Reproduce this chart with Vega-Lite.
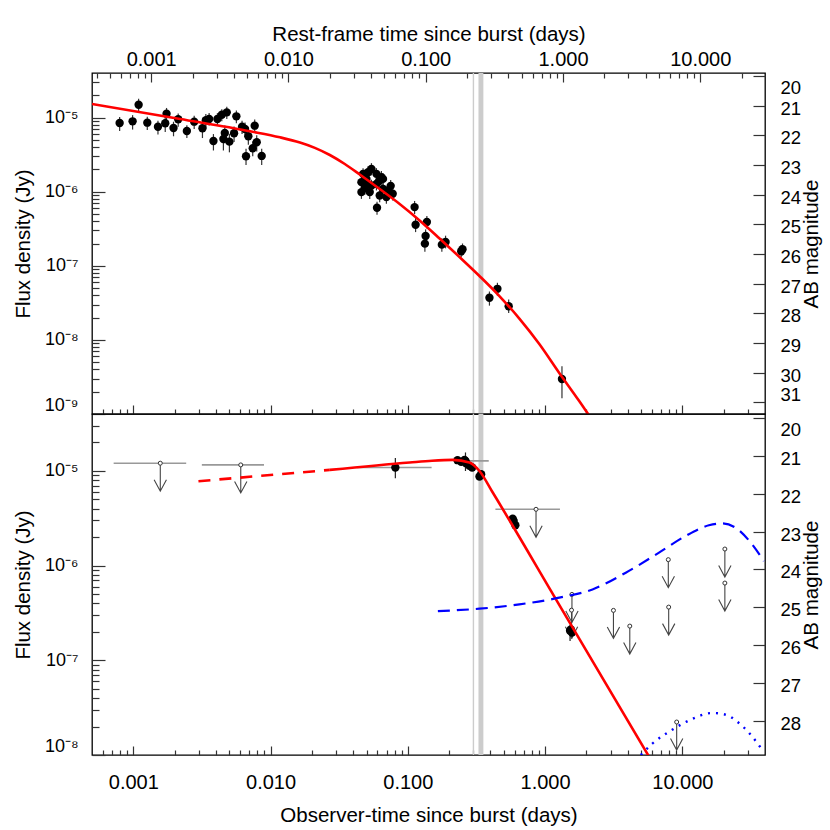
{
  "$schema": "https://vega.github.io/schema/vega-lite/v6.json",
  "background": "white",
  "padding": {"left": 12, "top": 23, "right": 0, "bottom": 0},
  "datasets": {
    "carrier": [{"t": 1, "F": 1e-6}],
    "bands": [{"t0": 0.297, "t1": 0.304}, {"t0": 0.327, "t1": 0.355}],
    "top_pts": [
      {"t": 0.000795, "F": 8.46e-6, "lo": 6.6e-6, "hi": 1.02e-5},
      {"t": 0.000988, "F": 8.91e-6, "lo": 6.9e-6, "hi": 1.08e-5},
      {"t": 0.001093, "F": 1.49e-5, "lo": 1.18e-5, "hi": 1.8e-5},
      {"t": 0.001264, "F": 8.54e-6, "lo": 6.8e-6, "hi": 1.03e-5},
      {"t": 0.001512, "F": 7.54e-6, "lo": 5.9e-6, "hi": 9.1e-6},
      {"t": 0.001708, "F": 8.38e-6, "lo": 6.4e-6, "hi": 1.0e-5},
      {"t": 0.001746, "F": 1.128e-5, "lo": 9.0e-6, "hi": 1.35e-5},
      {"t": 0.001963, "F": 7.24e-6, "lo": 5.6e-6, "hi": 8.8e-6},
      {"t": 0.002123, "F": 9.49e-6, "lo": 7.5e-6, "hi": 1.14e-5},
      {"t": 0.002455, "F": 6.6e-6, "lo": 5.3e-6, "hi": 7.9e-6},
      {"t": 0.002776, "F": 8.81e-6, "lo": 7.0e-6, "hi": 1.06e-5},
      {"t": 0.003189, "F": 7.18e-6, "lo": 5.3e-6, "hi": 8.8e-6},
      {"t": 0.003376, "F": 9.2e-6, "lo": 7.2e-6, "hi": 1.12e-5},
      {"t": 0.003567, "F": 9.57e-6, "lo": 7.8e-6, "hi": 1.15e-5},
      {"t": 0.003834, "F": 4.84e-6, "lo": 3.6e-6, "hi": 6.0e-6},
      {"t": 0.0041, "F": 9.57e-6, "lo": 7.8e-6, "hi": 1.15e-5},
      {"t": 0.004412, "F": 1.094e-5, "lo": 8.9e-6, "hi": 1.3e-5},
      {"t": 0.004797, "F": 1.178e-5, "lo": 9.6e-6, "hi": 1.4e-5},
      {"t": 0.004639, "F": 6.21e-6, "lo": 4.5e-6, "hi": 7.8e-6},
      {"t": 0.004532, "F": 5.15e-6, "lo": 3.6e-6, "hi": 6.5e-6},
      {"t": 0.005012, "F": 4.74e-6, "lo": 3.4e-6, "hi": 6.0e-6},
      {"t": 0.00542, "F": 6.15e-6, "lo": 4.7e-6, "hi": 7.6e-6},
      {"t": 0.005633, "F": 1.041e-5, "lo": 8.4e-6, "hi": 1.25e-5},
      {"t": 0.006197, "F": 7.54e-6, "lo": 6.0e-6, "hi": 9.1e-6},
      {"t": 0.006516, "F": 7.03e-6, "lo": 5.5e-6, "hi": 8.6e-6},
      {"t": 0.006887, "F": 5.6e-6, "lo": 4.3e-6, "hi": 6.9e-6},
      {"t": 0.006624, "F": 3.01e-6, "lo": 2.3e-6, "hi": 3.8e-6},
      {"t": 0.007662, "F": 7.78e-6, "lo": 6.2e-6, "hi": 9.4e-6},
      {"t": 0.007925, "F": 4.65e-6, "lo": 3.5e-6, "hi": 5.8e-6},
      {"t": 0.007413, "F": 3.86e-6, "lo": 3.0e-6, "hi": 4.8e-6},
      {"t": 0.008615, "F": 3.04e-6, "lo": 2.3e-6, "hi": 3.8e-6},
      {"t": 0.04718, "F": 1.741e-6, "lo": 1.42e-6, "hi": 2.08e-6},
      {"t": 0.05129, "F": 1.835e-6, "lo": 1.5e-6, "hi": 2.2e-6},
      {"t": 0.05904, "F": 1.741e-6, "lo": 1.42e-6, "hi": 2.08e-6},
      {"t": 0.06417, "F": 1.572e-6, "lo": 1.28e-6, "hi": 1.9e-6},
      {"t": 0.0459, "F": 1.346e-6, "lo": 1.1e-6, "hi": 1.6e-6},
      {"t": 0.04994, "F": 1.277e-6, "lo": 1.04e-6, "hi": 1.53e-6},
      {"t": 0.0543, "F": 1.212e-6, "lo": 9.9e-7, "hi": 1.45e-6},
      {"t": 0.05904, "F": 1.277e-6, "lo": 1.04e-6, "hi": 1.53e-6},
      {"t": 0.06592, "F": 1.094e-6, "lo": 8.9e-7, "hi": 1.31e-6},
      {"t": 0.07168, "F": 1.038e-6, "lo": 8.5e-7, "hi": 1.24e-6},
      {"t": 0.0459, "F": 9.88e-7, "lo": 8.0e-7, "hi": 1.18e-6},
      {"t": 0.05278, "F": 9.88e-7, "lo": 8.0e-7, "hi": 1.18e-6},
      {"t": 0.06237, "F": 8.89e-7, "lo": 7.2e-7, "hi": 1.07e-6},
      {"t": 0.06978, "F": 8.46e-7, "lo": 6.9e-7, "hi": 1.01e-6},
      {"t": 0.05963, "F": 6.07e-7, "lo": 4.9e-7, "hi": 7.3e-7},
      {"t": 0.0543, "F": 2.03e-6, "lo": 1.66e-6, "hi": 2.43e-6},
      {"t": 0.075, "F": 1.2e-6, "lo": 9.8e-7, "hi": 1.44e-6},
      {"t": 0.07757, "F": 9.37e-7, "lo": 7.6e-7, "hi": 1.12e-6},
      {"t": 0.06592, "F": 1.49e-6, "lo": 1.22e-6, "hi": 1.78e-6},
      {"t": 0.04994, "F": 1.49e-6, "lo": 1.22e-6, "hi": 1.78e-6},
      {"t": 0.0486, "F": 1.12e-6, "lo": 9.1e-7, "hi": 1.34e-6},
      {"t": 0.0615, "F": 1.38e-6, "lo": 1.13e-6, "hi": 1.65e-6},
      {"t": 0.112, "F": 6.2e-7, "lo": 5.0e-7, "hi": 7.5e-7},
      {"t": 0.1139, "F": 3.58e-7, "lo": 2.85e-7, "hi": 4.4e-7},
      {"t": 0.1376, "F": 3.9e-7, "lo": 3.2e-7, "hi": 4.7e-7},
      {"t": 0.1347, "F": 2.53e-7, "lo": 2.0e-7, "hi": 3.1e-7},
      {"t": 0.1331, "F": 1.99e-7, "lo": 1.55e-7, "hi": 2.45e-7},
      {"t": 0.1769, "F": 1.93e-7, "lo": 1.55e-7, "hi": 2.35e-7},
      {"t": 0.1883, "F": 2.1e-7, "lo": 1.72e-7, "hi": 2.55e-7},
      {"t": 0.2448, "F": 1.57e-7, "lo": 1.3e-7, "hi": 1.9e-7},
      {"t": 0.2502, "F": 1.67e-7, "lo": 1.38e-7, "hi": 2.0e-7},
      {"t": 0.3931, "F": 3.7e-8, "lo": 2.9e-8, "hi": 4.5e-8},
      {"t": 0.4494, "F": 4.89e-8, "lo": 3.95e-8, "hi": 5.9e-8},
      {"t": 0.5428, "F": 2.85e-8, "lo": 2.3e-8, "hi": 3.5e-8},
      {"t": 1.327, "F": 2.97e-9, "lo": 1.63e-9, "hi": 4.4e-9}
    ],
    "top_curve": [
      {"t": 0.0005, "F": 1.526e-5},
      {"t": 0.002195, "F": 9.57e-6},
      {"t": 0.007087, "F": 6.53e-6},
      {"t": 0.0117, "F": 5.42e-6},
      {"t": 0.01636, "F": 4.61e-6},
      {"t": 0.02102, "F": 3.91e-6},
      {"t": 0.02702, "F": 3.13e-6},
      {"t": 0.03473, "F": 2.365e-6},
      {"t": 0.04464, "F": 1.706e-6},
      {"t": 0.06237, "F": 1.087e-6},
      {"t": 0.08718, "F": 6.82e-7},
      {"t": 0.1218, "F": 4.09e-7},
      {"t": 0.1703, "F": 2.335e-7},
      {"t": 0.2379, "F": 1.315e-7},
      {"t": 0.3325, "F": 7.29e-8},
      {"t": 0.4646, "F": 3.91e-8},
      {"t": 0.6494, "F": 1.94e-8},
      {"t": 0.9074, "F": 8.8e-9},
      {"t": 1.268, "F": 3.58e-9},
      {"t": 1.772, "F": 1.497e-9},
      {"t": 2.278, "F": 7.56e-10}
    ],
    "bot_det": [
      {"t": 0.0811, "F": 1.089e-5, "lo": 8.4e-6, "hi": 1.37e-5},
      {"t": 0.263, "F": 1.279e-5, "lo": 1.0e-5, "hi": 1.57e-5},
      {"t": 0.2448, "F": 1.248e-5, "lo": 1.17e-5, "hi": 1.33e-5},
      {"t": 0.2662, "F": 1.209e-5, "lo": 1.13e-5, "hi": 1.29e-5},
      {"t": 0.2812, "F": 1.132e-5, "lo": 1.06e-5, "hi": 1.21e-5},
      {"t": 0.2942, "F": 1.089e-5, "lo": 1.02e-5, "hi": 1.16e-5},
      {"t": 0.2587, "F": 1.31e-5, "lo": 1.23e-5, "hi": 1.4e-5},
      {"t": 0.2301, "F": 1.301e-5, "lo": 1.22e-5, "hi": 1.39e-5},
      {"t": 0.342, "F": 9.25e-6, "lo": 8.7e-6, "hi": 9.8e-6},
      {"t": 0.3325, "F": 8.74e-6, "lo": 8.2e-6, "hi": 9.3e-6},
      {"t": 0.5805, "F": 3.14e-6, "lo": 2.95e-6, "hi": 3.35e-6},
      {"t": 0.5902, "F": 2.96e-6, "lo": 2.78e-6, "hi": 3.15e-6},
      {"t": 0.6072, "F": 2.67e-6, "lo": 2.5e-6, "hi": 2.85e-6},
      {"t": 1.54, "F": 2.12e-7, "lo": 1.85e-7, "hi": 2.4e-7},
      {"t": 1.57, "F": 1.97e-7, "lo": 1.7e-7, "hi": 2.25e-7},
      {"t": 1.52, "F": 2.05e-7, "lo": 1.6e-7, "hi": 2.35e-7}
    ],
    "bot_det_bars": [
      {"t0": 0.0425, "t1": 0.149, "F": 1.089e-5},
      {"t0": 0.2225, "t1": 0.3885, "F": 1.279e-5}
    ],
    "bot_lim": [
      {"t": 0.001572, "F": 1.209e-5},
      {"t": 0.006064, "F": 1.16e-5},
      {"t": 0.8588, "F": 3.94e-6},
      {"t": 1.569, "F": 4.97e-7},
      {"t": 1.558, "F": 3.39e-7},
      {"t": 3.147, "F": 3.37e-7},
      {"t": 4.14, "F": 2.3e-7},
      {"t": 7.9, "F": 1.157e-6},
      {"t": 7.95, "F": 3.65e-7},
      {"t": 20.4, "F": 1.499e-6},
      {"t": 20.4, "F": 6.55e-7},
      {"t": 9.09, "F": 2.23e-8}
    ],
    "bot_lim_bars": [
      {"t0": 0.000719, "t1": 0.002428, "F": 1.209e-5},
      {"t0": 0.003157, "t1": 0.008954, "F": 1.16e-5},
      {"t0": 0.4345, "t1": 1.283, "F": 3.94e-6}
    ],
    "red_dash": [
      {"t": 0.002982, "F": 7.8e-6},
      {"t": 0.02702, "F": 1.027e-5}
    ],
    "red_solid": [
      {"t": 0.02702, "F": 1.027e-5},
      {"t": 0.1031, "F": 1.23e-5},
      {"t": 0.15, "F": 1.285e-5},
      {"t": 0.2127, "F": 1.31e-5},
      {"t": 0.2812, "F": 1.23e-5},
      {"t": 0.3325, "F": 1.0e-5},
      {"t": 0.4155, "F": 5.92e-6},
      {"t": 1.2, "F": 4.41e-7},
      {"t": 6.0, "F": 8.54e-9}
    ],
    "blue_dash": [
      {"t": 0.1655, "F": 3.31e-7},
      {"t": 0.3325, "F": 3.51e-7},
      {"t": 0.6494, "F": 3.9e-7},
      {"t": 1.268, "F": 4.59e-7},
      {"t": 2.214, "F": 5.61e-7},
      {"t": 3.871, "F": 8.43e-7},
      {"t": 6.76, "F": 1.373e-6},
      {"t": 10.57, "F": 2.06e-6},
      {"t": 15.61, "F": 2.67e-6},
      {"t": 19.5, "F": 2.8e-6},
      {"t": 24.4, "F": 2.52e-6},
      {"t": 32.2, "F": 1.68e-6},
      {"t": 39.2, "F": 1.118e-6}
    ],
    "blue_dot": [
      {"t": 4.977, "F": 1.0e-8},
      {"t": 6.04, "F": 1.317e-8},
      {"t": 8.45, "F": 1.852e-8},
      {"t": 11.8, "F": 2.4e-8},
      {"t": 16.5, "F": 2.78e-8},
      {"t": 20.6, "F": 2.67e-8},
      {"t": 25.8, "F": 2.18e-8},
      {"t": 32.2, "F": 1.573e-8},
      {"t": 38.1, "F": 1.138e-8}
    ]
  },
  "vconcat": [
    {
      "width": 673,
      "height": 341,
      "layer": [
        {
          "layer": [
            {
              "data": {"name": "bands"},
              "mark": {"type": "rect", "color": "#cccccc"},
              "encoding": {
                "x": {"field": "t0", "type": "quantitative", "scale": {"type": "log", "domain": [0.0005, 40], "nice": false}, "axis": null},
                "x2": {"field": "t1"},
                "y": {"datum": 4e-5, "type": "quantitative", "scale": {"type": "log", "domain": [1e-9, 4e-5], "nice": false}, "axis": null},
                "y2": {"datum": 1e-9}
              }
            },
            {
              "data": {"name": "top_pts"},
              "mark": {"type": "rule", "color": "#333333", "strokeWidth": 1.2, "clip": true},
              "encoding": {
                "x": {"field": "t", "type": "quantitative", "scale": {"type": "log", "domain": [0.0005, 40], "nice": false}, "axis": null},
                "y": {"field": "lo", "type": "quantitative", "scale": {"type": "log", "domain": [1e-9, 4e-5], "nice": false}, "axis": null},
                "y2": {"field": "hi"}
              }
            },
            {
              "data": {"name": "top_pts"},
              "mark": {"type": "point", "shape": "circle", "filled": true, "color": "#000000", "opacity": 1, "size": 70},
              "encoding": {
                "x": {"field": "t", "type": "quantitative", "scale": {"type": "log", "domain": [0.0005, 40], "nice": false}, "axis": null},
                "y": {"field": "F", "type": "quantitative", "scale": {"type": "log", "domain": [1e-9, 4e-5], "nice": false}, "axis": null}
              }
            },
            {
              "data": {"name": "top_curve"},
              "mark": {"type": "line", "color": "#ff0000", "strokeWidth": 2.6, "clip": true, "interpolate": "monotone"},
              "encoding": {
                "x": {"field": "t", "type": "quantitative", "scale": {"type": "log", "domain": [0.0005, 40], "nice": false}, "axis": null},
                "y": {"field": "F", "type": "quantitative", "scale": {"type": "log", "domain": [1e-9, 4e-5], "nice": false}, "axis": null}
              }
            }
          ]
        },
        {
          "data": {"name": "carrier"},
          "mark": {"type": "point", "opacity": 0},
          "encoding": {
            "x": {"field": "t", "type": "quantitative", "scale": {"type": "log", "domain": [0.0005, 40], "nice": false},
              "axis": {"orient": "bottom", "values": [0.001, 0.01, 0.1, 1, 10], "tickSize": -9, "labels": false, "title": null}},
            "y": {"field": "F", "type": "quantitative", "scale": {"type": "log", "domain": [1e-9, 4e-5], "nice": false},
              "axis": {"orient": "left", "values": [1e-9, 1e-8, 1e-7, 1e-6, 1e-5], "tickSize": -13, "labelPadding": 27, "labelFlush": 12, "labelFontSize": 18,
                "labelExpr": "'10' + ['⁰','⁻¹','⁻²','⁻³','⁻⁴','⁻⁵','⁻⁶','⁻⁷','⁻⁸','⁻⁹','⁻¹⁰'][round(-log(datum.value)/LN10)]",
                "title": "Flux density (Jy)", "titlePadding": 11}}
          }
        },
        {
          "data": {"name": "carrier"},
          "mark": {"type": "point", "opacity": 0},
          "encoding": {
            "x": {"field": "t", "type": "quantitative", "scale": {"type": "log", "domain": [0.0005, 40], "nice": false},
              "axis": {"orient": "bottom", "values": [0.0006, 0.0007, 0.0008, 0.0009, 0.002, 0.003, 0.004, 0.005, 0.006, 0.007, 0.008, 0.009, 0.02, 0.03, 0.04, 0.05, 0.06, 0.07, 0.08, 0.09, 0.2, 0.3, 0.4, 0.5, 0.6, 0.7, 0.8, 0.9, 2, 3, 4, 5, 6, 7, 8, 9, 20, 30], "tickSize": -5, "labels": false, "title": null}},
            "y": {"field": "F", "type": "quantitative", "scale": {"type": "log", "domain": [1e-9, 4e-5], "nice": false},
              "axis": {"orient": "left", "values": [2e-9, 3e-9, 4e-9, 5e-9, 6e-9, 7e-9, 8e-9, 9e-9, 2e-8, 3e-8, 4e-8, 5e-8, 6e-8, 7e-8, 8e-8, 9e-8, 2e-7, 3e-7, 4e-7, 5e-7, 6e-7, 7e-7, 8e-7, 9e-7, 2e-6, 3e-6, 4e-6, 5e-6, 6e-6, 7e-6, 8e-6, 9e-6, 2e-5, 3e-5], "tickSize": -7, "labels": false, "title": null}}
          }
        },
        {
          "data": {"name": "carrier"},
          "mark": {"type": "point", "opacity": 0},
          "encoding": {
            "x": {"field": "t", "type": "quantitative", "scale": {"type": "log", "domain": [0.0005, 40], "nice": false},
              "axis": {"orient": "top", "values": [0.00135, 0.0135, 0.135, 1.35, 13.5], "tickSize": -9, "labelPadding": 13,
                "labelExpr": "format(datum.value/1.35, '.3f')", "title": "Rest-frame time since burst (days)", "titlePadding": 5}},
            "y": {"field": "F", "type": "quantitative", "scale": {"type": "log", "domain": [1e-9, 4e-5], "nice": false},
              "axis": {"orient": "right", "values": [3.631e-5, 1.44553e-5, 5.7548e-6, 2.29101e-6, 9.1207e-7, 3.631e-7, 1.44553e-7, 5.7548e-8, 2.29101e-8, 9.1207e-9, 3.631e-9, 1.44553e-9],
                "tickSize": -12, "labelPadding": 27, "labelAlign": "left", "labelFlush": 12, "labelOffset": 2.5, "labelFontSize": 18.5,
                "labelExpr": "format(round(-2.5*log(datum.value/3631)/LN10), 'd')",
                "title": "AB magnitude", "titleAngle": 270, "titleBaseline": "top", "titlePadding": 1}}
          }
        },
        {
          "data": {"name": "carrier"},
          "mark": {"type": "point", "opacity": 0},
          "encoding": {
            "x": {"field": "t", "type": "quantitative", "scale": {"type": "log", "domain": [0.0005, 40], "nice": false},
              "axis": {"orient": "top", "values": [0.00054, 0.000675, 0.00081, 0.000945, 0.00108, 0.001215, 0.0027, 0.00405, 0.0054, 0.00675, 0.0081, 0.00945, 0.0108, 0.01215, 0.027, 0.0405, 0.054, 0.0675, 0.081, 0.0945, 0.108, 0.1215, 0.27, 0.405, 0.54, 0.675, 0.81, 0.945, 1.08, 1.215, 2.7, 4.05, 5.4, 6.75, 8.1, 9.45, 10.8, 12.15, 27], "tickSize": -5, "labels": false, "title": null}},
            "y": {"field": "F", "type": "quantitative", "scale": {"type": "log", "domain": [1e-9, 4e-5], "nice": false}, "axis": null}
          }
        }
      ],
      "resolve": {"scale": {"x": "independent", "y": "independent"}}
    },
    {
      "width": 673,
      "height": 341,
      "layer": [
        {
          "layer": [
            {
              "data": {"name": "bands"},
              "mark": {"type": "rect", "color": "#cccccc"},
              "encoding": {
                "x": {"field": "t0", "type": "quantitative", "scale": {"type": "log", "domain": [0.0005, 40], "nice": false}, "axis": null},
                "x2": {"field": "t1"},
                "y": {"datum": 4e-5, "type": "quantitative", "scale": {"type": "log", "domain": [1e-8, 4e-5], "nice": false}, "axis": null},
                "y2": {"datum": 1e-8}
              }
            },
            {
              "data": {"name": "bot_lim_bars"},
              "mark": {"type": "rule", "color": "#999999", "strokeWidth": 1.6, "clip": true},
              "encoding": {
                "x": {"field": "t0", "type": "quantitative", "scale": {"type": "log", "domain": [0.0005, 40], "nice": false}, "axis": null},
                "x2": {"field": "t1"},
                "y": {"field": "F", "type": "quantitative", "scale": {"type": "log", "domain": [1e-8, 4e-5], "nice": false}, "axis": null}
              }
            },
            {
              "data": {"name": "bot_det_bars"},
              "mark": {"type": "rule", "color": "#999999", "strokeWidth": 1.6, "clip": true},
              "encoding": {
                "x": {"field": "t0", "type": "quantitative", "scale": {"type": "log", "domain": [0.0005, 40], "nice": false}, "axis": null},
                "x2": {"field": "t1"},
                "y": {"field": "F", "type": "quantitative", "scale": {"type": "log", "domain": [1e-8, 4e-5], "nice": false}, "axis": null}
              }
            },
            {
              "data": {"name": "bot_det"},
              "mark": {"type": "rule", "color": "#222222", "strokeWidth": 1.2, "clip": true},
              "encoding": {
                "x": {"field": "t", "type": "quantitative", "scale": {"type": "log", "domain": [0.0005, 40], "nice": false}, "axis": null},
                "y": {"field": "lo", "type": "quantitative", "scale": {"type": "log", "domain": [1e-8, 4e-5], "nice": false}, "axis": null},
                "y2": {"field": "hi"}
              }
            },
            {
              "data": {"name": "bot_lim"},
              "mark": {"type": "point", "shape": "M0,0L0,2M-0.44,1.18L0,2L0.44,1.18", "size": 784, "filled": false, "stroke": "#444444", "strokeWidth": 1.1, "opacity": 1},
              "encoding": {
                "x": {"field": "t", "type": "quantitative", "scale": {"type": "log", "domain": [0.0005, 40], "nice": false}, "axis": null},
                "y": {"field": "F", "type": "quantitative", "scale": {"type": "log", "domain": [1e-8, 4e-5], "nice": false}, "axis": null}
              }
            },
            {
              "data": {"name": "bot_lim"},
              "mark": {"type": "point", "shape": "circle", "size": 16, "filled": true, "fill": "#ffffff", "stroke": "#333333", "strokeWidth": 1, "opacity": 1},
              "encoding": {
                "x": {"field": "t", "type": "quantitative", "scale": {"type": "log", "domain": [0.0005, 40], "nice": false}, "axis": null},
                "y": {"field": "F", "type": "quantitative", "scale": {"type": "log", "domain": [1e-8, 4e-5], "nice": false}, "axis": null}
              }
            },
            {
              "data": {"name": "bot_det"},
              "mark": {"type": "point", "shape": "circle", "filled": true, "color": "#000000", "opacity": 1, "size": 70},
              "encoding": {
                "x": {"field": "t", "type": "quantitative", "scale": {"type": "log", "domain": [0.0005, 40], "nice": false}, "axis": null},
                "y": {"field": "F", "type": "quantitative", "scale": {"type": "log", "domain": [1e-8, 4e-5], "nice": false}, "axis": null}
              }
            },
            {
              "data": {"name": "red_dash"},
              "mark": {"type": "line", "color": "#ff0000", "strokeWidth": 2.6, "strokeDash": [12, 9], "clip": true},
              "encoding": {
                "x": {"field": "t", "type": "quantitative", "scale": {"type": "log", "domain": [0.0005, 40], "nice": false}, "axis": null},
                "y": {"field": "F", "type": "quantitative", "scale": {"type": "log", "domain": [1e-8, 4e-5], "nice": false}, "axis": null}
              }
            },
            {
              "data": {"name": "red_solid"},
              "mark": {"type": "line", "color": "#ff0000", "strokeWidth": 2.6, "clip": true, "interpolate": "monotone"},
              "encoding": {
                "x": {"field": "t", "type": "quantitative", "scale": {"type": "log", "domain": [0.0005, 40], "nice": false}, "axis": null},
                "y": {"field": "F", "type": "quantitative", "scale": {"type": "log", "domain": [1e-8, 4e-5], "nice": false}, "axis": null}
              }
            },
            {
              "data": {"name": "blue_dash"},
              "mark": {"type": "line", "color": "#0000ff", "strokeWidth": 2.2, "strokeDash": [12, 7], "clip": true, "interpolate": "monotone"},
              "encoding": {
                "x": {"field": "t", "type": "quantitative", "scale": {"type": "log", "domain": [0.0005, 40], "nice": false}, "axis": null},
                "y": {"field": "F", "type": "quantitative", "scale": {"type": "log", "domain": [1e-8, 4e-5], "nice": false}, "axis": null}
              }
            },
            {
              "data": {"name": "blue_dot"},
              "mark": {"type": "line", "color": "#0000ff", "strokeWidth": 2.4, "strokeDash": [2, 6], "clip": true, "interpolate": "monotone"},
              "encoding": {
                "x": {"field": "t", "type": "quantitative", "scale": {"type": "log", "domain": [0.0005, 40], "nice": false}, "axis": null},
                "y": {"field": "F", "type": "quantitative", "scale": {"type": "log", "domain": [1e-8, 4e-5], "nice": false}, "axis": null}
              }
            }
          ]
        },
        {
          "data": {"name": "carrier"},
          "mark": {"type": "point", "opacity": 0},
          "encoding": {
            "x": {"field": "t", "type": "quantitative", "scale": {"type": "log", "domain": [0.0005, 40], "nice": false},
              "axis": {"orient": "bottom", "values": [0.001, 0.01, 0.1, 1, 10], "tickSize": -9, "labelPadding": 26,
                "labelExpr": "format(datum.value, '.3f')", "title": "Observer-time since burst (days)", "titlePadding": 13}},
            "y": {"field": "F", "type": "quantitative", "scale": {"type": "log", "domain": [1e-8, 4e-5], "nice": false},
              "axis": {"orient": "left", "values": [1e-8, 1e-7, 1e-6, 1e-5], "tickSize": -13, "labelPadding": 27, "labelFlush": 12, "labelFontSize": 18,
                "labelExpr": "'10' + ['⁰','⁻¹','⁻²','⁻³','⁻⁴','⁻⁵','⁻⁶','⁻⁷','⁻⁸','⁻⁹','⁻¹⁰'][round(-log(datum.value)/LN10)]",
                "title": "Flux density (Jy)", "titlePadding": 11}}
          }
        },
        {
          "data": {"name": "carrier"},
          "mark": {"type": "point", "opacity": 0},
          "encoding": {
            "x": {"field": "t", "type": "quantitative", "scale": {"type": "log", "domain": [0.0005, 40], "nice": false},
              "axis": {"orient": "bottom", "values": [0.0006, 0.0007, 0.0008, 0.0009, 0.002, 0.003, 0.004, 0.005, 0.006, 0.007, 0.008, 0.009, 0.02, 0.03, 0.04, 0.05, 0.06, 0.07, 0.08, 0.09, 0.2, 0.3, 0.4, 0.5, 0.6, 0.7, 0.8, 0.9, 2, 3, 4, 5, 6, 7, 8, 9, 20, 30], "tickSize": -5, "labels": false, "title": null}},
            "y": {"field": "F", "type": "quantitative", "scale": {"type": "log", "domain": [1e-8, 4e-5], "nice": false},
              "axis": {"orient": "left", "values": [2e-8, 3e-8, 4e-8, 5e-8, 6e-8, 7e-8, 8e-8, 9e-8, 2e-7, 3e-7, 4e-7, 5e-7, 6e-7, 7e-7, 8e-7, 9e-7, 2e-6, 3e-6, 4e-6, 5e-6, 6e-6, 7e-6, 8e-6, 9e-6, 2e-5, 3e-5], "tickSize": -7, "labels": false, "title": null}}
          }
        },
        {
          "data": {"name": "carrier"},
          "mark": {"type": "point", "opacity": 0},
          "encoding": {
            "x": {"field": "t", "type": "quantitative", "scale": {"type": "log", "domain": [0.0005, 40], "nice": false}, "axis": null},
            "y": {"field": "F", "type": "quantitative", "scale": {"type": "log", "domain": [1e-8, 4e-5], "nice": false},
              "axis": {"orient": "right", "values": [3.631e-5, 1.44553e-5, 5.7548e-6, 2.29101e-6, 9.1207e-7, 3.631e-7, 1.44553e-7, 5.7548e-8, 2.29101e-8],
                "tickSize": -12, "labelPadding": 27, "labelAlign": "left", "labelFlush": 12, "labelOffset": 2.5, "labelFontSize": 18.5,
                "labelExpr": "format(round(-2.5*log(datum.value/3631)/LN10), 'd')",
                "title": "AB magnitude", "titleAngle": 270, "titleBaseline": "top", "titlePadding": 1}}
          }
        }
      ],
      "resolve": {"scale": {"x": "independent", "y": "independent"}}
    }
  ],
  "spacing": 0,
  "bounds": "flush",
  "config": {
    "view": {"stroke": "#000000", "strokeWidth": 1.3},
    "axis": {
      "labelFont": "Liberation Sans", "titleFont": "Liberation Sans",
      "labelFontSize": 20, "titleFontSize": 20.5, "titleFontWeight": "normal",
      "labelColor": "#000000", "titleColor": "#000000",
      "tickColor": "#333333", "tickWidth": 1.2,
      "domain": false, "grid": false, "labelOverlap": false, "labelFlush": false
    }
  }
}
